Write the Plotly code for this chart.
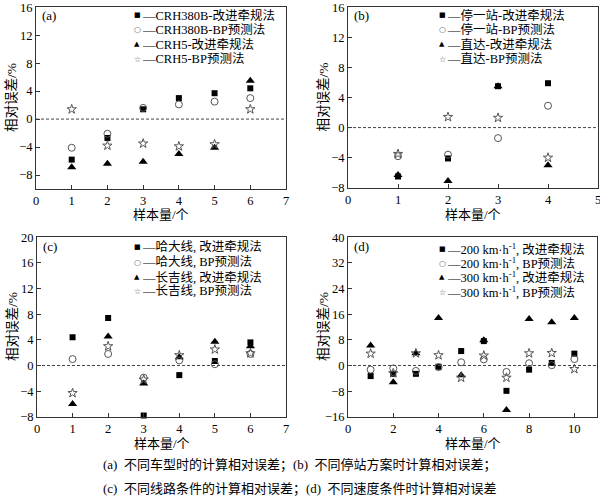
import plotly.graph_objects as go

W, H = 600, 503

# ---- data ----
xa = [1, 2, 3, 4, 5, 6]
a_crh380b_imp = [-5.8, -2.7, 1.4, 3.0, 3.7, 4.4]
a_crh380b_bp = [-4.1, -2.1, 1.6, 2.1, 2.5, 3.0]
a_crh5_imp = [-6.9, -6.4, -6.1, -5.0, -4.1, 5.5]
a_crh5_bp = [1.4, -3.8, -3.5, -3.9, -3.6, 1.4]

xb = [1, 2, 3, 4]
b_stop_imp = [-6.5, -4.1, 5.5, 5.9]
b_stop_bp = [-3.8, -3.6, -1.4, 2.9]
b_direct_imp = [-6.3, -7.1, 5.5, -5.0]
b_direct_bp = [-3.5, 1.4, 1.3, -4.0]

xc = [1, 2, 3, 4, 5, 6]
c_hd_imp = [4.4, 7.4, -7.8, -1.5, 0.7, 3.6]
c_hd_bp = [1.0, 1.8, -1.9, 0.8, 0.2, 1.8]
c_cj_imp = [-6.0, 4.5, -2.8, 1.3, 3.7, 3.0]
c_cj_bp = [-4.3, 3.0, -2.2, 1.6, 2.5, 1.9]

xd = [1, 2, 3, 4, 5, 6, 7, 8, 9, 10]
d_200_imp = [-3.3, -2.6, -2.6, -0.4, 4.5, 7.6, -7.9, -1.3, 0.8, 3.7]
d_200_bp = [-1.3, -0.9, -1.7, -0.5, 1.0, 1.9, -2.0, 0.7, 0.1, 2.0]
d_300_imp = [6.2, -5.2, 3.8, 14.8, -3.0, 7.9, -13.9, 14.5, 13.5, 14.8]
d_300_bp = [3.7, -2.4, 3.8, 3.2, -3.8, 3.1, -3.8, 3.8, 3.9, -1.1]

yticks_a = [-8, -4, 0, 4, 8, 12, 16]
yticks_b = [-8, -4, 0, 4, 8, 12, 16]
yticks_c = [-8, -4, 0, 4, 8, 12, 16, 20]
yticks_d = [-16, -8, 0, 8, 16, 24, 32, 40]

leg_a = ["—CRH380B-改进牵规法", "—CRH380B-BP预测法", "—CRH5-改进牵规法", "—CRH5-BP预测法"]
leg_b = ["—停一站-改进牵规法", "—停一站-BP预测法", "—直达-改进牵规法", "—直达-BP预测法"]
leg_c = ["—哈大线, 改进牵规法", "—哈大线, BP预测法", "—长吉线, 改进牵规法", "—长吉线, BP预测法"]
leg_d = ["—200 km·h<sup>-1</sup>, 改进牵规法", "—200 km·h<sup>-1</sup>, BP预测法",
         "—300 km·h<sup>-1</sup>, 改进牵规法", "—300 km·h<sup>-1</sup>, BP预测法"]

captions = ["(a)  不同车型时的计算相对误差；(b)  不同停站方案时计算相对误差；",
            "(c)  不同线路条件的计算相对误差；(d)  不同速度条件时计算相对误差"]

FONT = "Liberation Serif, Noto Sans CJK SC, serif"
GRAY = "#555555"

styles = [
    dict(symbol="square", size=6, color="black", line=dict(width=0)),
    dict(symbol="circle-open", size=7, color=GRAY, line=dict(width=1)),
    dict(symbol="triangle-up", size=8, color="black", line=dict(width=0)),
    dict(symbol="star-open", size=7, color=GRAY, line=dict(width=1)),
]
glyphs = [("■", "black", 7), ("○", GRAY, 8), ("▲", "black", 7), ("☆", GRAY, 8)]

def px_x(p):
    return p / W

def px_y(p):
    return 1 - p / H

panels = [
    ("(a)", xa, [a_crh380b_imp, a_crh380b_bp, a_crh5_imp, a_crh5_bp], leg_a,
     [0, 7], 1, [-10, 16.03], yticks_a, (36, 286, 7, 189), 137, [15, 30, 44, 59], 25),
    ("(b)", xb, [b_stop_imp, b_stop_bp, b_direct_imp, b_direct_bp], leg_b,
     [0, 5], 1, [-8.03, 16.03], yticks_b, (348, 598, 7, 188), 442, [15, 30, 44, 59], 26),
    ("(c)", xc, [c_hd_imp, c_hd_bp, c_cj_imp, c_cj_bp], leg_c,
     [0, 7], 1, [-8.03, 20.03], yticks_c, (37, 286, 237, 417), 137, [247, 262, 277, 291], 26),
    ("(d)", xd, [d_200_imp, d_200_bp, d_300_imp, d_300_bp], leg_d,
     [0, 11], 2, [-16.05, 40.05], yticks_d, (348, 597, 237, 417), 442, [249, 263, 277, 292], 26),
]

fig = go.Figure()
annotations = []
shapes = []
layout = {}

for i, (lab, xs, series, legs, xr, xdt, yr, ytv, box, lmx, lys, tgap) in enumerate(panels):
    n = i + 1
    xa_name = "x" if n == 1 else f"x{n}"
    ya_name = "y" if n == 1 else f"y{n}"
    l, r, t, b = box
    axis_common = dict(
        showline=True, linecolor="#333333", linewidth=1, mirror=True,
        ticks="inside", ticklen=4, tickcolor="#333333", showgrid=False, zeroline=False,
        tickfont=dict(family=FONT, size=12.5, color="black"), automargin=False,
        ticklabeloverflow="allow",
    )
    layout[f"xaxis{'' if n == 1 else n}"] = dict(
        axis_common, domain=[px_x(l), px_x(r)], range=xr, dtick=xdt, tick0=0,
        anchor=ya_name)
    layout[f"yaxis{'' if n == 1 else n}"] = dict(
        axis_common, domain=[px_y(b), px_y(t)], range=yr, tickmode="array",
        tickvals=ytv, anchor=xa_name)
    for s, st in zip(series, styles):
        fig.add_trace(go.Scatter(x=xs, y=s, mode="markers", marker=st,
                                 xaxis=xa_name, yaxis=ya_name, showlegend=False,
                                 cliponaxis=False, hoverinfo="skip"))
    shapes.append(dict(type="line", xref=f"{xa_name} domain", yref=ya_name,
                       x0=0, x1=1, y0=0, y1=0,
                       line=dict(color="#444444", width=1, dash="3px,2px")))
    annotations.append(dict(text=lab, xref="paper", yref="paper",
                            x=px_x(l + 4), y=px_y(t + 9), xanchor="left", yanchor="middle",
                            showarrow=False, font=dict(family=FONT, size=13, color="black")))
    for (g, gc, gs), txt, ly in zip(glyphs, legs, lys):
        annotations.append(dict(text=g, xref="paper", yref="paper",
                                x=px_x(lmx), y=px_y(ly), xanchor="center", yanchor="middle",
                                showarrow=False, font=dict(family="DejaVu Sans", size=gs, color=gc)))
        annotations.append(dict(text=txt, xref="paper", yref="paper",
                                x=px_x(lmx + 3), y=px_y(ly), xanchor="left", yanchor="middle",
                                showarrow=False, font=dict(family=FONT, size=12.5, color="black")))
    annotations.append(dict(text="样本量/个", xref="paper", yref="paper",
                            x=px_x((l + r) / 2), y=px_y(b + tgap), xanchor="center", yanchor="middle",
                            showarrow=False, font=dict(family=FONT, size=13, color="black")))
    annotations.append(dict(text="相对误差/%", xref="paper", yref="paper",
                            x=px_x(l - 25), y=px_y((t + b) / 2), xanchor="center", yanchor="middle",
                            textangle=-90, showarrow=False,
                            font=dict(family=FONT, size=13.5, color="black")))

for cap, cy in zip(captions, [465, 489]):
    annotations.append(dict(text=cap, xref="paper", yref="paper",
                            x=0.5, y=px_y(cy), xanchor="center", yanchor="middle",
                            showarrow=False, font=dict(family=FONT, size=13, color="black")))

fig.update_layout(
    width=W, height=H, margin=dict(l=0, r=0, t=0, b=0),
    paper_bgcolor="white", plot_bgcolor="white",
    annotations=annotations, shapes=shapes, **layout,
)

fig.write_html("out.html", config={"displayModeBar": False},
               post_script="document.body.style.margin='0';document.body.style.overflow='hidden';")
